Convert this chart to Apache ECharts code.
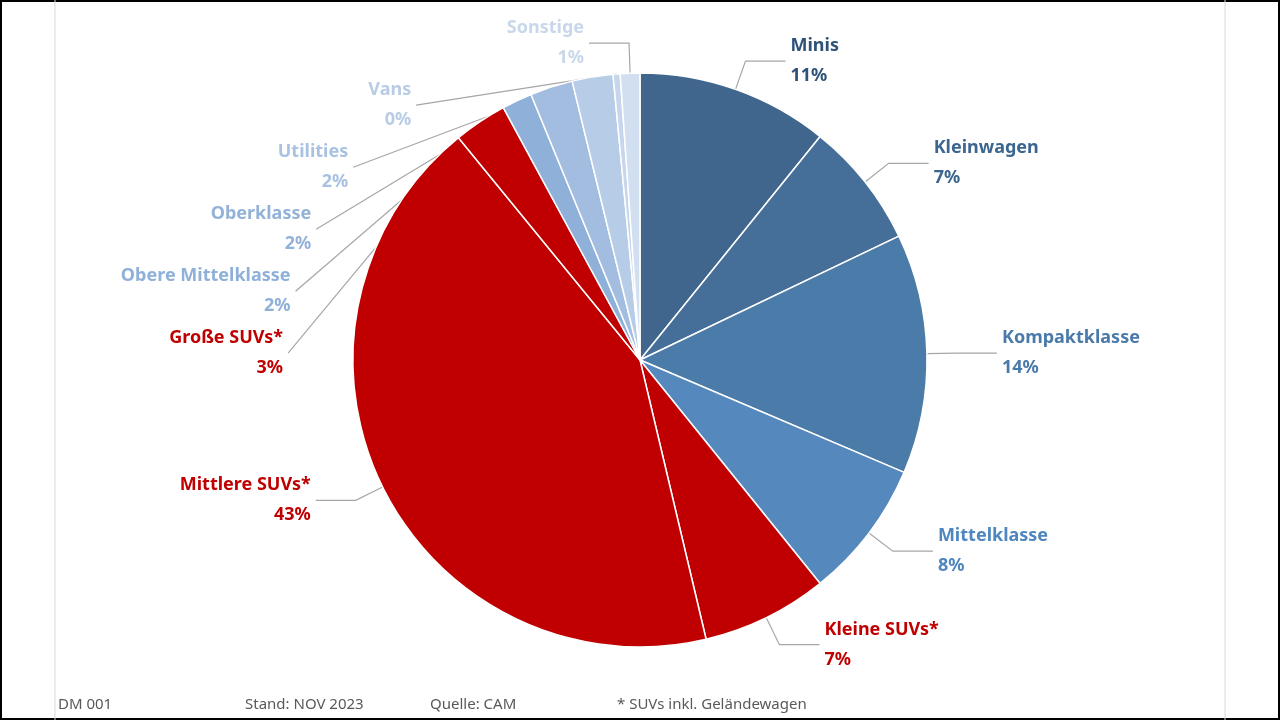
<!DOCTYPE html>
<html><head><meta charset="utf-8">
<script src="https://cdn.jsdelivr.net/npm/echarts@6/dist/echarts.min.js"></script>
<style>html,body{margin:0;padding:0;background:#fff}#c{width:1280px;height:720px}</style>
</head><body><div id="c"></div>
<script>
const categories = ["Minis","Kleinwagen","Kompaktklasse","Mittelklasse","Kleine SUVs*","Mittlere SUVs*","Große SUVs*","Obere Mittelklasse","Oberklasse","Utilities","Vans","Sonstige"];
const values = [10.8,7.1,13.5,7.8,7.1,42.8,3.0,1.7,2.4,2.3,0.4,1.1];
const colors = ["#41668d","#456f99","#4b7ba9","#5589bd","#c00000","#c00000","#c00000","#8eb0d9","#a3bde0","#b7cce7","#c6d6ec","#d2dff0"];
const labelColors = ["#2f5378","#3c6690","#4a7aaa","#4f86bf","#c00000","#c00000","#c00000","#8eb0d9","#93b2d8","#a9c2e2","#b9cce6","#c9d7ea"];
const footer = ["DM 001","Stand: NOV 2023","Quelle: CAM","* SUVs inkl. Geländewagen"];
const footerX = [58,245,430,617];

const chart = echarts.init(document.getElementById('c'));
chart.setOption({
  animation:false,
  graphic:[
    {type:'rect',shape:{x:1,y:1,width:1278,height:718},style:{fill:'none',stroke:'#000',lineWidth:2}},
    {type:'line',shape:{x1:55,y1:0,x2:55,y2:720},style:{stroke:'#d9d9d9',lineWidth:1}},
    {type:'line',shape:{x1:1225,y1:0,x2:1225,y2:720},style:{stroke:'#d9d9d9',lineWidth:1}},
    ...footer.map((t,i)=>({type:'text',left:footerX[i],top:697,style:{text:t,fill:'#595959',font:'15px "Noto Sans"'}}))
  ],
  series:[{
    type:'pie', center:[640,360], radius:287, startAngle:90, clockwise:true,
    itemStyle:{borderColor:'#fff',borderWidth:1.5},
    label:{show:true,position:'outside',fontFamily:'Noto Sans',fontWeight:'bold',fontSize:18,lineHeight:30,align:'center',
      formatter:p=>p.name+'\n'+Math.round(p.value)+'%'},
    labelLine:{show:true,length:30,length2:40,lineStyle:{color:'#a6a6a6',width:1.2}},
    data:categories.map((c,i)=>({name:c,value:values[i],itemStyle:{color:colors[i]},label:{color:labelColors[i]}}))
  }]
});
</script></body></html>
